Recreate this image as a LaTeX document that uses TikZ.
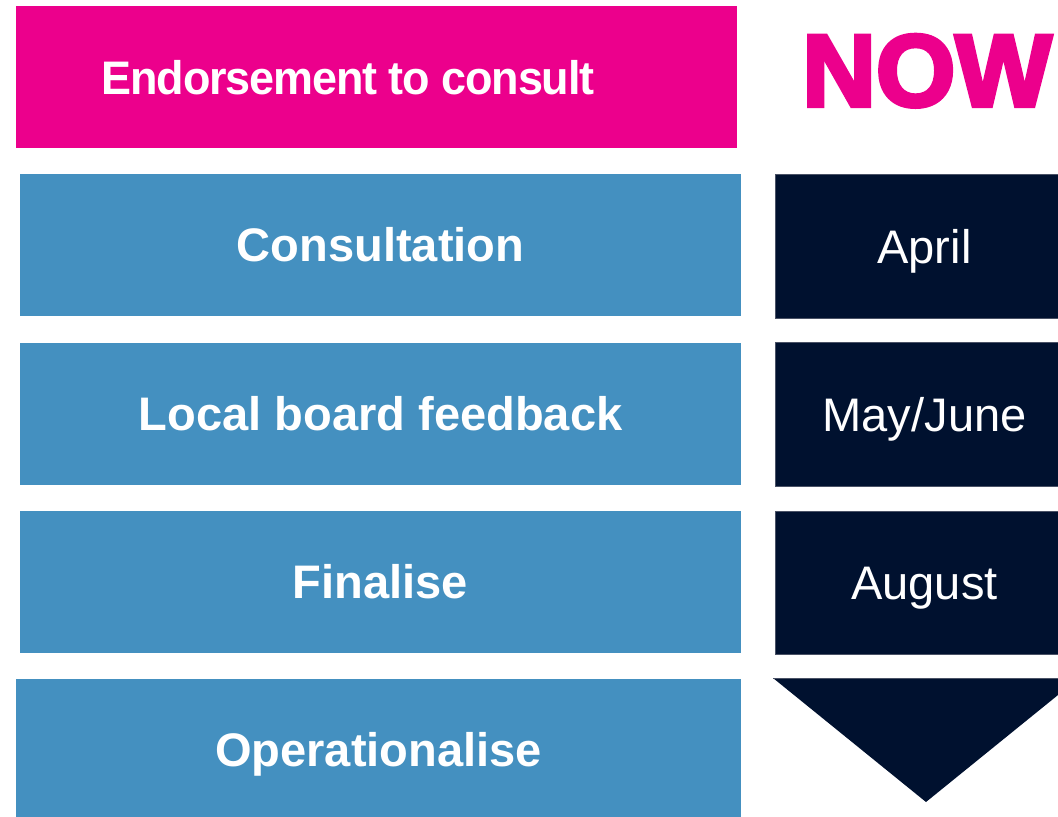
\documentclass[tikz,border=0pt]{standalone}
\usepackage{fontspec}
\setmainfont{Liberation Sans}
\newfontfamily\nowfont{Liberation Sans}[FakeBold=4]
\newfontfamily\tightfont{Liberation Sans}[LetterSpace=-2.5]
\definecolor{pinkc}{HTML}{EC008C}
\definecolor{bluec}{HTML}{4490C0}
\definecolor{navyc}{HTML}{00112F}
\definecolor{edgec}{HTML}{4A5266}
\tikzset{
  box/.style={rectangle, inner sep=0pt, text height=25.3pt, text depth=0pt, text=white,
    font=\fontsize{35.3}{40}\selectfont},
  pinkbox/.style={box, fill=pinkc, minimum width=540.75pt, minimum height=106.5pt},
  stagebox/.style={box, fill=bluec, minimum width=540.75pt, minimum height=106.5pt, font=\fontsize{35.3}{40}\selectfont\bfseries},
  datebox/.style={box, fill=navyc, draw=edgec, line width=0.75pt, minimum width=224.25pt, minimum height=108pt},
  lbl/.style={inner sep=0pt, text height=25.3pt, text depth=0pt, text=white, font=\fontsize{35.3}{40}\tightfont\bfseries},
}
\begin{document}
\begin{tikzpicture}[x=0.75pt,y=-0.75pt]
\path[use as bounding box] (0,0) rectangle (1058,817);
% top row
\node[pinkbox] (endbox) at (376.5,77) {};
\node[lbl, xscale=0.955, transform shape] (endtxt) at (348,78) {Endorsement to consult};
\node[inner sep=0pt, text height=54.7pt, text depth=0pt, text=pinkc, font=\fontsize{76.5}{80}\nowfont\bfseries] (now) at (927,69.5) {NOW};
% stages
\node[stagebox] (consult) at (380.5,245) {Consultation};
\node[stagebox] (local) at (380.5,414) {Local board feedback};
\node[stagebox] (final) at (380.5,582) {Finalise};
\node[stagebox, minimum width=543.75pt] (oper) at (378.5,749.5) {Operationalise};
% dates
\node[datebox] (april) at (924.5,246.5) {April};
\node[datebox] (mayjune) at (924.5,414.5) {May/June};
\node[datebox, minimum height=107.25pt] (august) at (924.5,582.5) {August};
% arrow head
\coordinate (tl) at (773,678);
\coordinate (tr) at (1079,678);
\coordinate (tip) at (926,802);
\fill[navyc] (tl) -- (tr) -- (tip) -- cycle;
\draw[edgec, line width=0.75pt] (tl) -- (tr);
\end{tikzpicture}
\end{document}
